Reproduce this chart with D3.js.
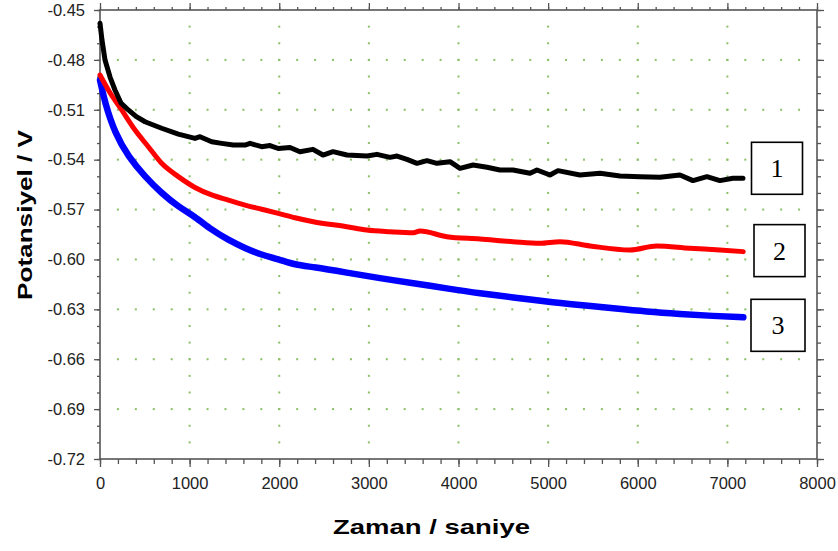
<!DOCTYPE html>
<html>
<head>
<meta charset="utf-8">
<script src="https://cdn.jsdelivr.net/npm/d3@7"></script>
<style>
  html, body { margin: 0; padding: 0; background: #fff; }
  svg { display: block; }
</style>
</head>
<body>
<svg id="chart" width="838" height="551"></svg>
<script>
// ---- data ----
const xTicks = [0, 1000, 2000, 3000, 4000, 5000, 6000, 7000, 8000];
const yTicks = [-0.45, -0.48, -0.51, -0.54, -0.57, -0.60, -0.63, -0.66, -0.69, -0.72];
const xTitle = "Zaman / saniye";
const yTitle = "Potansiyel / V";
const curveLabels = ["1", "2", "3"];

// curve 1 (black): [time s, potential V]
const curve1 = [
  [0, -0.4580], [22, -0.4680], [56, -0.4801], [112, -0.4903], [167, -0.4981],
  [234, -0.5059], [316, -0.5101], [402, -0.5140], [502, -0.5172], [688, -0.5211],
  [874, -0.5246], [1060, -0.5272], [1116, -0.5262], [1246, -0.5292], [1358, -0.5302],
  [1487, -0.5312], [1618, -0.5312], [1674, -0.5302], [1804, -0.5322], [1897, -0.5315],
  [1989, -0.5333], [2120, -0.5327], [2231, -0.5352], [2376, -0.5338], [2488, -0.5372],
  [2600, -0.5352], [2756, -0.5372], [2979, -0.5378], [3090, -0.5368], [3235, -0.5386],
  [3314, -0.5378], [3425, -0.5398], [3537, -0.5422], [3648, -0.5406], [3760, -0.5422],
  [3905, -0.5412], [4017, -0.5452], [4162, -0.5432], [4318, -0.5446], [4463, -0.5462],
  [4608, -0.5462], [4798, -0.5482], [4876, -0.5462], [5021, -0.5492], [5110, -0.5466],
  [5355, -0.5492], [5579, -0.5482], [5802, -0.5498], [6025, -0.5502], [6248, -0.5506],
  [6471, -0.5492], [6616, -0.5526], [6772, -0.5502], [6917, -0.5526], [7062, -0.5512],
  [7174, -0.5512]
];

// curve 2 (red)
const curve2 = [
  [0, -0.4891], [93, -0.4981], [242, -0.5101], [391, -0.5222], [539, -0.5322],
  [688, -0.5422], [874, -0.5502], [1060, -0.5567], [1246, -0.5612], [1432, -0.5643],
  [1618, -0.5673], [1804, -0.5698], [1989, -0.5723], [2176, -0.5749], [2380, -0.5773],
  [2752, -0.5803], [2976, -0.5823], [3235, -0.5833], [3496, -0.5839], [3570, -0.5829],
  [3868, -0.5863], [4240, -0.5877], [4608, -0.5893], [4909, -0.5903], [5132, -0.5893],
  [5467, -0.5919], [5913, -0.5943], [6211, -0.5919], [6579, -0.5933], [6917, -0.5943],
  [7177, -0.5953]
];

// curve 3 (blue)
const curve3 = [
  [0, -0.4921], [56, -0.5061], [167, -0.5241], [316, -0.5382], [502, -0.5502],
  [688, -0.5602], [874, -0.5683], [1060, -0.5743], [1246, -0.5823], [1432, -0.5883],
  [1618, -0.5933], [1804, -0.5973], [1989, -0.5997], [2176, -0.6033], [2380, -0.6045],
  [2753, -0.6079], [3124, -0.6113], [3496, -0.6143], [3868, -0.6174], [4240, -0.6204],
  [4611, -0.6228], [4984, -0.6254], [5356, -0.6274], [5727, -0.6294], [6100, -0.6314],
  [6472, -0.6328], [6843, -0.6340], [7178, -0.6348]
];

// ---- chart ----
const svg = d3.select("#chart");
const plotLeft = 100, plotRight = 817, plotTop = 10, plotBottom = 459;
const x = d3.scaleLinear().domain([0, 8000]).range([plotLeft, plotRight]);
const y = d3.scaleLinear().domain([-0.72, -0.45]).range([plotBottom, plotTop]);

const xMinor = d3.range(0, 41).map(i => i * 200);
const yMinor = d3.range(0, 28).map(i => +(-0.72 + i * 0.01).toFixed(2));

const axisColor = "#555";
const fontSans = "'Liberation Sans', Arial, Helvetica, sans-serif";

// grid dots
const gridColor = "#8cc068";
const gridG = svg.append("g");
xTicks.filter(t => t > 0 && t < 8000).forEach(t => {
  yMinor.filter(v => v > -0.72 && v < -0.45).forEach(v => {
    gridG.append("rect").attr("x", x(t) - 1).attr("y", y(v) - 1)
      .attr("width", 2).attr("height", 2).attr("fill", gridColor);
  });
});
yTicks.filter(v => v > -0.72 && v < -0.45).forEach(v => {
  xMinor.filter(t => t > 0 && t < 8000).forEach(t => {
    gridG.append("rect").attr("x", x(t) - 1).attr("y", y(v) - 1)
      .attr("width", 2).attr("height", 2).attr("fill", gridColor);
  });
});

function styleAxis(g) {
  g.select(".domain").remove();
  g.selectAll(".tick line").attr("stroke", axisColor).attr("stroke-width", 1.3);
}

// minor ticks
svg.append("g").attr("transform", `translate(${plotLeft},0)`)
  .call(d3.axisLeft(y).tickValues(yMinor).tickSize(3).tickFormat(""))
  .call(styleAxis);
svg.append("g").attr("transform", `translate(${plotRight},0)`)
  .call(d3.axisRight(y).tickValues(yMinor).tickSize(4).tickFormat(""))
  .call(styleAxis);
svg.append("g").attr("transform", `translate(0,${plotBottom})`)
  .call(d3.axisBottom(x).tickValues(xMinor).tickSize(5).tickFormat(""))
  .call(styleAxis);
svg.append("g").attr("transform", `translate(0,${plotTop})`)
  .call(d3.axisTop(x).tickValues(xMinor).tickSize(3).tickFormat(""))
  .call(styleAxis);

// major ticks with labels
const yAxisG = svg.append("g").attr("transform", `translate(${plotLeft},0)`)
  .call(d3.axisLeft(y).tickValues(yTicks).tickSize(6).tickPadding(9).tickFormat(d => d.toFixed(2)))
  .call(styleAxis);
yAxisG.selectAll("text").attr("font-family", fontSans).attr("font-size", 16.5)
  .attr("fill", "#222");

const xAxisG = svg.append("g").attr("transform", `translate(0,${plotBottom})`)
  .call(d3.axisBottom(x).tickValues(xTicks).tickSize(8).tickPadding(10).tickFormat(d => String(d)))
  .call(styleAxis);
xAxisG.selectAll("text").attr("font-family", fontSans).attr("font-size", 16.5)
  .attr("fill", "#222");

svg.append("g").attr("transform", `translate(${plotRight},0)`)
  .call(d3.axisRight(y).tickValues(yTicks).tickSize(7).tickFormat(""))
  .call(styleAxis);
svg.append("g").attr("transform", `translate(0,${plotTop})`)
  .call(d3.axisTop(x).tickValues(xTicks).tickSize(7).tickFormat(""))
  .call(styleAxis);

// frame
svg.append("rect").attr("x", plotLeft).attr("y", plotTop)
  .attr("width", plotRight - plotLeft).attr("height", plotBottom - plotTop)
  .attr("fill", "none").attr("stroke", axisColor).attr("stroke-width", 1.6);

// curves
const series = [
  { data: curve3, color: "#0000ff", width: 6.5, curve: d3.curveBasis },
  { data: curve2, color: "#ff0000", width: 5, curve: d3.curveMonotoneX },
  { data: curve1, color: "#000000", width: 5, curve: d3.curveLinear }
];
series.forEach(s => {
  const line = d3.line().curve(s.curve).x(d => x(d[0])).y(d => y(d[1]));
  svg.append("path").datum(s.data).attr("d", line)
    .attr("fill", "none").attr("stroke", s.color).attr("stroke-width", s.width)
    .attr("stroke-linejoin", "round").attr("stroke-linecap", "round");
});

// curve label boxes (anchored to the end value of each curve)
const ends = [curve1, curve2, curve3].map(c => c[c.length - 1]);
const boxOffsets = [-10, -1, 8];
const boxLeft = [751.5, 754, 751];
const boxRight = [802.5, 805, 805];
ends.forEach((e, i) => {
  const cy = y(e[1]) + boxOffsets[i];
  const g = svg.append("g");
  g.append("rect").attr("x", boxLeft[i]).attr("y", cy - 26)
    .attr("width", boxRight[i] - boxLeft[i]).attr("height", 52)
    .attr("fill", "#fff").attr("stroke", "#000").attr("stroke-width", 1.6);
  g.append("text").attr("x", (boxLeft[i] + boxRight[i]) / 2).attr("y", cy + 9)
    .attr("text-anchor", "middle")
    .attr("font-family", "'Liberation Serif', 'Times New Roman', serif")
    .attr("font-size", 26).attr("fill", "#000").text(curveLabels[i]);
});

// axis titles
svg.append("text").attr("x", 333).attr("y", 534)
  .attr("font-family", fontSans).attr("font-weight", "bold").attr("font-size", 21)
  .attr("textLength", 197).attr("lengthAdjust", "spacingAndGlyphs")
  .attr("fill", "#000").text(xTitle);

svg.append("text").attr("transform", "translate(32,300) rotate(-90)")
  .attr("x", 0).attr("y", 0)
  .attr("font-family", fontSans).attr("font-weight", "bold").attr("font-size", 21)
  .attr("textLength", 170).attr("lengthAdjust", "spacingAndGlyphs")
  .attr("fill", "#000").text(yTitle);
</script>
</body>
</html>
